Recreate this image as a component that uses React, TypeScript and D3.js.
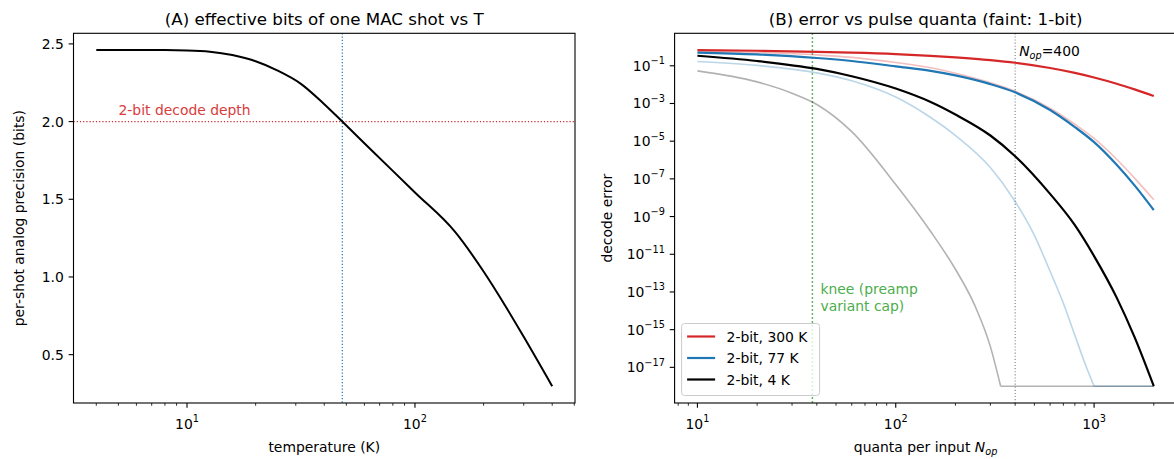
import React from "react";
import * as d3 from "d3";

// ---------- Panel A data ----------
const T_K = [4, 6, 8, 10, 12.6, 15.8, 20, 25, 31.6, 39.8, 48, 63, 100, 150, 200, 250, 300, 400];
const BITS = [2.46, 2.46, 2.46, 2.458, 2.45, 2.428, 2.388, 2.328, 2.243, 2.115, 2.0, 1.83, 1.544, 1.29, 1.035, 0.81, 0.615, 0.297];
const DECODE_DEPTH_BITS = 2.0;
const T_CROSS = 48;
const A_YTICKS = [0.5, 1.0, 1.5, 2.0, 2.5];
const A_XTICKS = [10, 100];

// ---------- Panel B data ----------
const N_GRID = [10, 20, 40, 60, 100, 150, 200, 300, 400, 600, 800, 1000, 1300, 1600, 2000];
const ERR_2BIT_300K = [0.68, 0.63, 0.55, 0.5, 0.42, 0.34, 0.28, 0.2, 0.145, 0.076, 0.042, 0.024, 0.0112, 5.6e-3, 2.5e-3];
const ERR_2BIT_77K = [0.5, 0.4, 0.26, 0.18, 0.093, 0.054, 0.031, 0.0107, 3.9e-3, 4.5e-4, 5.6e-5, 8.9e-6, 5.6e-7, 4.5e-8, 2.2e-9];
const ERR_2BIT_4K = [0.34, 0.18, 0.068, 0.028, 6.2e-3, 1.2e-3, 2.6e-4, 2e-5, 1.6e-6, 1.6e-8, 3.5e-10, 8e-12, 5e-14, 4e-16, 1e-18];
const ERR_1BIT_300K = [0.575, 0.5, 0.38, 0.28, 0.15, 0.079, 0.04, 0.0126, 4.5e-3, 5.6e-4, 7.9e-5, 1.4e-5, 1.1e-6, 1.1e-7, 7.9e-9];
const N_1BIT_77K = [10, 20, 40, 60, 100, 150, 200, 300, 400, 500, 600, 700, 800, 900, 1000, 2000];
const ERR_1BIT_77K = [0.17, 0.105, 0.042, 0.016, 2.2e-3, 1.8e-4, 2e-5, 4e-7, 6.3e-9, 1e-10, 1.26e-12, 2.5e-14, 5e-16, 1.6e-17, 1e-18, 1e-18];
const N_1BIT_4K = [10, 20, 30, 40, 60, 100, 150, 200, 250, 300, 338, 2000];
const ERR_1BIT_4K = [0.054, 0.014, 3.5e-3, 8.9e-4, 3.2e-5, 5e-8, 1.6e-10, 1.6e-12, 2e-14, 1.26e-16, 1e-18, 1e-18];
const KNEE_N = 38;
const NOP_N = 400;
const B_YTICK_EXP = [-1, -3, -5, -7, -9, -11, -13, -15, -17];
const B_XTICK_EXP = [1, 2, 3];
const LEGEND_LABELS = ["2-bit, 300 K", "2-bit, 77 K", "2-bit, 4 K"];

const RED = "#d62728";
const BLUE = "#1f77b4";
const GREEN = "#2ca02c";
const FONT = "DejaVu Sans, sans-serif";
const FS = 13.9;

const W = 1174, H = 459;
const AX_A = { x0: 73.5, x1: 575, y0: 33.3, y1: 403 };
const AX_B = { x0: 674.6, x1: 1176.6, y0: 33.3, y1: 403 };

function logPad(lo: number, hi: number) {
  const a = Math.log10(lo), b = Math.log10(hi), m = (b - a) * 0.05;
  return [Math.pow(10, a - m), Math.pow(10, b + m)];
}
function linPad(lo: number, hi: number) {
  const m = (hi - lo) * 0.05;
  return [lo - m, hi + m];
}
function minorTicks(lo: number, hi: number) {
  const out: number[] = [];
  for (let e = Math.floor(Math.log10(lo)); e <= Math.ceil(Math.log10(hi)); e++) {
    for (let k = 2; k <= 9; k++) {
      const v = k * Math.pow(10, e);
      if (v >= lo && v <= hi) out.push(v);
    }
  }
  return out;
}

function Pow10({ x, y, exp, anchor }: { x: number; y: number; exp: number; anchor: string }) {
  const s = exp < 0 ? "\u2212" + Math.abs(exp) : String(exp);
  return (
    <text x={x} y={y} textAnchor={anchor} fontFamily={FONT} fontSize={FS} fill="#000">
      10<tspan dy={-6.5} fontSize={FS * 0.7}>{s}</tspan>
    </text>
  );
}

export default function App() {
  // Panel A scales
  const axDom = logPad(d3.min(T_K)!, d3.max(T_K)!);
  const xA = d3.scaleLog().domain(axDom).range([AX_A.x0, AX_A.x1]);
  const ayDom = linPad(d3.min(BITS)!, d3.max(BITS)!);
  const yA = d3.scaleLinear().domain(ayDom).range([AX_A.y1, AX_A.y0]);
  const lineA = d3.line<number>().x((_, i) => xA(T_K[i])).y((d) => yA(d)).curve(d3.curveMonotoneX);

  // Panel B scales
  const allN = [...N_GRID, ...N_1BIT_77K, ...N_1BIT_4K];
  const allE = [...ERR_2BIT_300K, ...ERR_2BIT_77K, ...ERR_2BIT_4K, ...ERR_1BIT_300K, ...ERR_1BIT_77K, ...ERR_1BIT_4K];
  const floor = d3.min(allE)!;
  const bxDom = logPad(d3.min(allN)!, d3.max(allN)!);
  const xB = d3.scaleLog().domain(bxDom).range([AX_B.x0, AX_B.x1]);
  const byDom = logPad(floor, d3.max(allE)!);
  const yB = d3.scaleLog().domain(byDom).range([AX_B.y1, AX_B.y0]);

  // curved descent up to the floor, then a straight floor segment
  const seriesPath = (ns: number[], vs: number[]) => {
    const pts = ns.map((n, i) => [xB(n), yB(vs[i])] as [number, number]);
    let k = vs.findIndex((v) => v <= floor);
    if (k < 0) k = pts.length - 1;
    const curved = d3.line().curve(d3.curveMonotoneX)(pts.slice(0, k + 1)) || "";
    const flat = k < pts.length - 1 ? d3.line()(pts.slice(k)) || "" : "";
    return curved + flat;
  };

  const faint = [
    { ns: N_GRID, vs: ERR_1BIT_300K, color: RED },
    { ns: N_1BIT_77K, vs: ERR_1BIT_77K, color: BLUE },
    { ns: N_1BIT_4K, vs: ERR_1BIT_4K, color: "#000" },
  ];
  const main = [
    { ns: N_GRID, vs: ERR_2BIT_300K, color: RED },
    { ns: N_GRID, vs: ERR_2BIT_77K, color: BLUE },
    { ns: N_GRID, vs: ERR_2BIT_4K, color: "#000" },
  ];

  const TL = 4.86, TLm = 2.78;
  const aMinor = minorTicks(axDom[0], axDom[1]).filter((v) => !A_XTICKS.includes(v));
  const bMinor = minorTicks(bxDom[0], bxDom[1]);

  const legX = AX_B.x0 + 7, legY = 323.5, legW = 138, legH = 72;

  return (
    <svg width={W} height={H} style={{ position: "absolute", left: 0, top: 0, background: "#fff" }}>
      <defs>
        <clipPath id="clipA"><rect x={AX_A.x0} y={AX_A.y0} width={AX_A.x1 - AX_A.x0} height={AX_A.y1 - AX_A.y0} /></clipPath>
        <clipPath id="clipB"><rect x={AX_B.x0} y={AX_B.y0} width={AX_B.x1 - AX_B.x0} height={AX_B.y1 - AX_B.y0} /></clipPath>
      </defs>
      <rect x={0} y={0} width={W} height={H} fill="#fff" />

      {/* ---------------- Panel A ---------------- */}
      <g clipPath="url(#clipA)">
        <line x1={AX_A.x0} x2={AX_A.x1} y1={yA(DECODE_DEPTH_BITS)} y2={yA(DECODE_DEPTH_BITS)} stroke={RED} strokeWidth={1.2} strokeDasharray="1.2,2" />
        <line x1={xA(T_CROSS)} x2={xA(T_CROSS)} y1={AX_A.y0} y2={AX_A.y1} stroke={BLUE} strokeWidth={1.2} strokeDasharray="1.2,2" />
        <path d={lineA(BITS)!} fill="none" stroke="#000" strokeWidth={2} />
      </g>
      <text x={118.5} y={114.5} fontFamily={FONT} fontSize={FS} fill={RED} opacity={0.9}>2-bit decode depth</text>
      <rect x={AX_A.x0} y={AX_A.y0} width={AX_A.x1 - AX_A.x0} height={AX_A.y1 - AX_A.y0} fill="none" stroke="#000" strokeWidth={1.1} />
      {A_YTICKS.map((t) => (
        <g key={t}>
          <line x1={AX_A.x0 - TL} x2={AX_A.x0} y1={yA(t)} y2={yA(t)} stroke="#000" strokeWidth={1.1} />
          <text x={AX_A.x0 - TL - 4.9} y={yA(t) + 5} textAnchor="end" fontFamily={FONT} fontSize={FS}>{t.toFixed(1)}</text>
        </g>
      ))}
      {A_XTICKS.map((t) => (
        <g key={t}>
          <line x1={xA(t)} x2={xA(t)} y1={AX_A.y1} y2={AX_A.y1 + TL} stroke="#000" strokeWidth={1.1} />
          <Pow10 x={xA(t)} y={AX_A.y1 + 25.5} exp={Math.round(Math.log10(t))} anchor="middle" />
        </g>
      ))}
      {aMinor.map((t) => (
        <line key={t} x1={xA(t)} x2={xA(t)} y1={AX_A.y1} y2={AX_A.y1 + TLm} stroke="#000" strokeWidth={0.8} />
      ))}
      <text x={(AX_A.x0 + AX_A.x1) / 2} y={452} textAnchor="middle" fontFamily={FONT} fontSize={FS}>temperature (K)</text>
      <text transform={`translate(24,${(AX_A.y0 + AX_A.y1) / 2}) rotate(-90)`} textAnchor="middle" fontFamily={FONT} fontSize={FS}>per-shot analog precision (bits)</text>
      <text x={(AX_A.x0 + AX_A.x1) / 2} y={25} textAnchor="middle" fontFamily={FONT} fontSize={16.7}>(A) effective bits of one MAC shot vs T</text>

      {/* ---------------- Panel B ---------------- */}
      <g clipPath="url(#clipB)">
        <line x1={xB(KNEE_N)} x2={xB(KNEE_N)} y1={AX_B.y0} y2={AX_B.y1} stroke={GREEN} strokeWidth={1.5} strokeDasharray="1.5,2.5" />
        <line x1={xB(NOP_N)} x2={xB(NOP_N)} y1={AX_B.y0} y2={AX_B.y1} stroke="#808080" strokeWidth={1.1} strokeDasharray="1.1,2" />
        {faint.map((s, i) => (
          <path key={"f" + i} d={seriesPath(s.ns, s.vs)} fill="none" stroke={s.color} strokeOpacity={0.3} strokeWidth={1.6} strokeLinejoin="round" />
        ))}
        {main.map((s, i) => (
          <path key={"m" + i} d={seriesPath(s.ns, s.vs)} fill="none" stroke={s.color} strokeWidth={2.2} strokeLinejoin="round" />
        ))}
      </g>
      <text x={xB(NOP_N) + 4} y={56} fontFamily={FONT} fontSize={FS}>
        <tspan fontStyle="italic">N</tspan><tspan fontStyle="italic" fontSize={FS * 0.7} dy={3}>op</tspan><tspan dy={-3}>=400</tspan>
      </text>
      <text x={xB(KNEE_N) + 8} y={294} fontFamily={FONT} fontSize={FS} fill={GREEN} opacity={0.85}>knee (preamp</text>
      <text x={xB(KNEE_N) + 8} y={311} fontFamily={FONT} fontSize={FS} fill={GREEN} opacity={0.85}>variant cap)</text>

      {/* legend */}
      <rect x={legX} y={legY} width={legW} height={legH} rx={3} fill="#fff" fillOpacity={0.8} stroke="#ccc" strokeWidth={1} />
      {main.map((s, i) => (
        <g key={"lg" + i}>
          <line x1={legX + 5.5} x2={legX + 33.5} y1={legY + 13 + i * 21.5} y2={legY + 13 + i * 21.5} stroke={s.color} strokeWidth={2.2} />
          <text x={legX + 45} y={legY + 18 + i * 21.5} fontFamily={FONT} fontSize={FS}>{LEGEND_LABELS[i]}</text>
        </g>
      ))}

      <rect x={AX_B.x0} y={AX_B.y0} width={AX_B.x1 - AX_B.x0} height={AX_B.y1 - AX_B.y0} fill="none" stroke="#000" strokeWidth={1.1} />
      {B_YTICK_EXP.map((e) => {
        const y = yB(Math.pow(10, e));
        return (
          <g key={e}>
            <line x1={AX_B.x0 - TL} x2={AX_B.x0} y1={y} y2={y} stroke="#000" strokeWidth={1.1} />
            <Pow10 x={AX_B.x0 - TL - 4.9} y={y + 5} exp={e} anchor="end" />
          </g>
        );
      })}
      {B_XTICK_EXP.map((e) => (
        <g key={e}>
          <line x1={xB(Math.pow(10, e))} x2={xB(Math.pow(10, e))} y1={AX_B.y1} y2={AX_B.y1 + TL} stroke="#000" strokeWidth={1.1} />
          <Pow10 x={xB(Math.pow(10, e))} y={AX_B.y1 + 25.5} exp={e} anchor="middle" />
        </g>
      ))}
      {bMinor.map((t) => (
        <line key={t} x1={xB(t)} x2={xB(t)} y1={AX_B.y1} y2={AX_B.y1 + TLm} stroke="#000" strokeWidth={0.8} />
      ))}
      <text x={(AX_B.x0 + AX_B.x1) / 2} y={452} textAnchor="middle" fontFamily={FONT} fontSize={FS}>
        quanta per input <tspan fontStyle="italic">N</tspan><tspan fontStyle="italic" fontSize={FS * 0.7} dy={3}>op</tspan>
      </text>
      <text transform={`translate(${AX_B.x0 - 63},${(AX_B.y0 + AX_B.y1) / 2}) rotate(-90)`} textAnchor="middle" fontFamily={FONT} fontSize={FS}>decode error</text>
      <text x={(AX_B.x0 + AX_B.x1) / 2} y={25} textAnchor="middle" fontFamily={FONT} fontSize={16.7}>(B) error vs pulse quanta (faint: 1-bit)</text>
    </svg>
  );
}
